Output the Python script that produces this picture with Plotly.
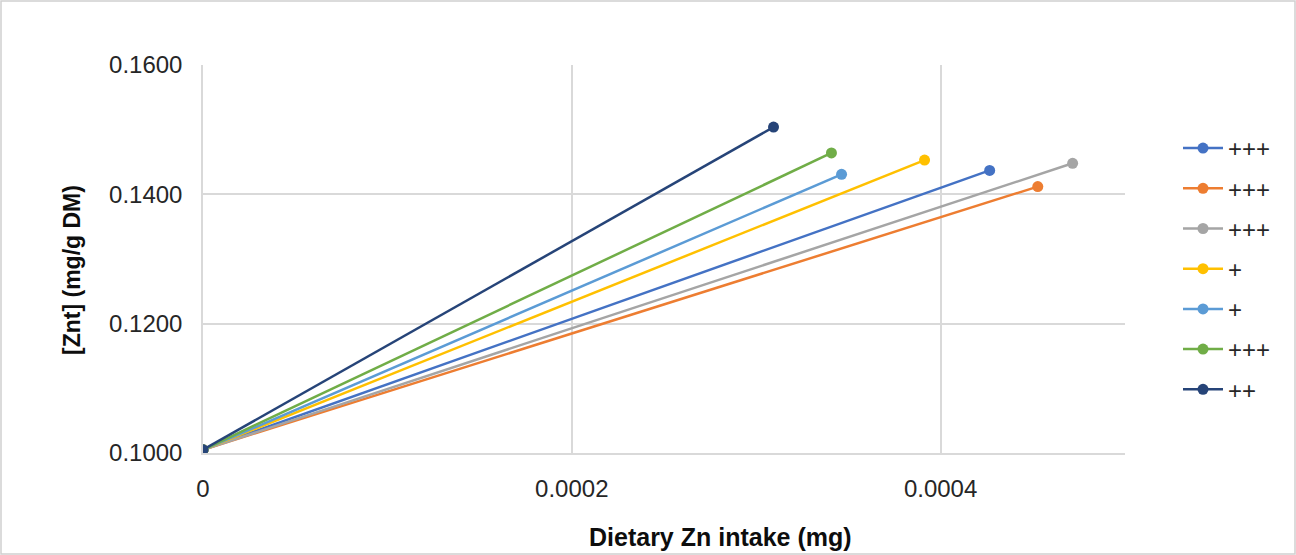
import plotly.graph_objects as go

names = ["+++", "+++", "+++", "+", "+", "+++", "++"]
colors = ["#4472C4", "#ED7D31", "#A5A5A5", "#FFC000", "#5B9BD5", "#70AD47", "#264478"]
x_start = [0, 0, 0, 0, 0, 0, 0]
y_start = [0.1005, 0.1005, 0.1005, 0.1005, 0.1005, 0.1005, 0.1005]
x_end = [0.0004266, 0.0004527, 0.0004716, 0.0003913, 0.0003463, 0.0003408, 0.0003094]
y_end = [0.1437, 0.1412, 0.1448, 0.1453, 0.1431, 0.1464, 0.1504]

x_ticks = [0, 0.0002, 0.0004]
x_tick_text = ["0", "0.0002", "0.0004"]
y_ticks = [0.10, 0.12, 0.14, 0.16]
y_tick_text = ["0.1000", "0.1200", "0.1400", "0.1600"]
x_title = "Dietary Zn intake (mg)"
y_title = "[Znt] (mg/g DM)"

FONT = "Liberation Sans, Arial, sans-serif"

fig = go.Figure()
for i in range(len(names)):
    fig.add_trace(go.Scatter(
        x=[x_start[i], x_end[i]], y=[y_start[i], y_end[i]],
        mode="lines+markers", name=names[i], legendgroup=f"g{i}",
        line=dict(color=colors[i], width=2.5),
        marker=dict(color=colors[i], size=11),
    ))

W, H = 1296, 555
ml, mr, mt, mb = 203, 171, 65, 102
pw, ph = W - ml - mr, H - mt - mb


def px_x(p):
    return (p - ml) / pw


def px_y(p):
    return (H - mb - p) / ph


fig.update_layout(
    width=W, height=H,
    margin=dict(l=ml, r=mr, t=mt, b=mb),
    paper_bgcolor="white", plot_bgcolor="white",
    font=dict(family=FONT, size=24, color="#262626"),
    showlegend=True,
    legend=dict(x=px_x(1178), y=px_y(126), xanchor="left", yanchor="top",
                font=dict(size=24, color="#262626"), tracegroupgap=6,
                itemwidth=40, bgcolor="rgba(0,0,0,0)"),
    xaxis=dict(range=[0, 0.0005], tickvals=x_ticks, ticktext=x_tick_text,
               showgrid=True, gridcolor="#D9D9D9", gridwidth=1.5,
               showline=True, linecolor="#D9D9D9", linewidth=1.5,
               zeroline=False, ticks="", ticklabelstandoff=13,
               tickfont=dict(size=24, color="#262626")),
    yaxis=dict(range=[0.10, 0.16], tickvals=y_ticks, ticktext=y_tick_text,
               showgrid=True, gridcolor="#D9D9D9", gridwidth=1.5,
               showline=True, linecolor="#D9D9D9", linewidth=1.5,
               zeroline=False, ticks="", ticklabelstandoff=14,
               tickfont=dict(size=24, color="#262626")),
    annotations=[
        dict(text=f"<b>{x_title}</b>", xref="paper", yref="paper",
             x=px_x(720), y=px_y(537), xanchor="center", yanchor="middle",
             showarrow=False, font=dict(size=25, color="#0d0d0d")),
        dict(text=f"<b>{y_title}</b>", xref="paper", yref="paper",
             x=px_x(72), y=px_y(270), xanchor="center", yanchor="middle",
             textangle=-90, showarrow=False,
             font=dict(size=23, color="#0d0d0d")),
    ],
    shapes=[dict(type="rect", xref="paper", yref="paper",
                 x0=px_x(1), x1=px_x(W - 1),
                 y0=px_y(H - 1), y1=px_y(1),
                 line=dict(color="#D0D0D0", width=1.5), layer="below")],
)

fig.write_html("out.html", config={"displayModeBar": False},
               post_script="document.body.style.margin='0';document.body.style.overflow='hidden';")
